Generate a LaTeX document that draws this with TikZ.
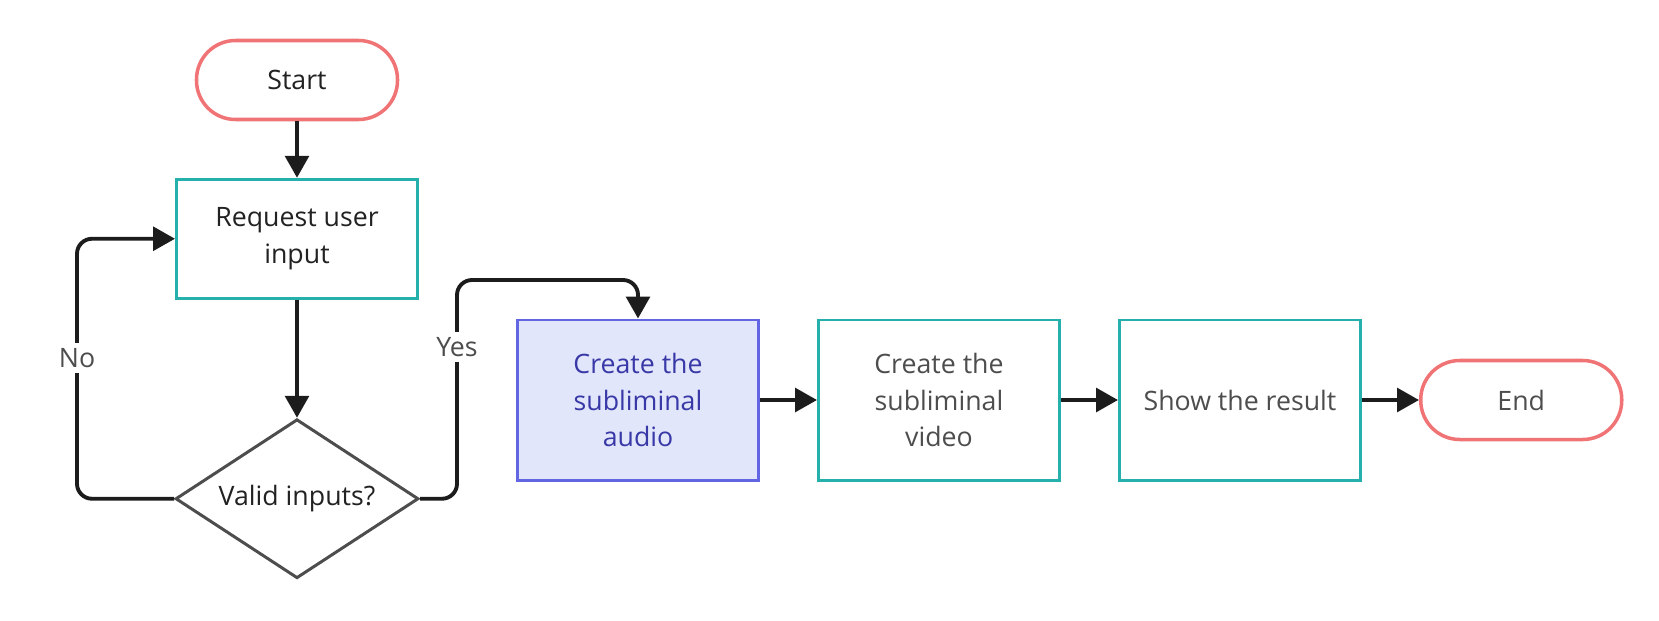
\documentclass[tikz,border=0pt]{standalone}
\usepackage{fontspec}
\setmainfont{Open Sans}
\usepackage{xcolor}
\usepackage{tikz}
\usetikzlibrary{shapes,arrows.meta,positioning,calc}

\definecolor{tealline}{HTML}{26B0AC}
\definecolor{coralline}{HTML}{F07476}
\definecolor{indigoline}{HTML}{6366E3}
\definecolor{indigofill}{HTML}{E1E6FB}
\definecolor{indigotext}{HTML}{3838A6}
\definecolor{darktext}{HTML}{222222}
\definecolor{graytext}{HTML}{4D4D4D}
\definecolor{arrowline}{HTML}{1C1C1C}

\begin{document}
\begin{tikzpicture}[
    node distance=1.14cm,
    font=\fontsize{15.2}{20.8}\selectfont,
    terminal/.style={rectangle, rounded corners=0.78cm, draw=coralline, line width=2pt, minimum width=4.02cm, minimum height=1.58cm, align=center},
    process/.style={rectangle, draw=tealline, line width=1.7pt, minimum width=4.82cm, minimum height=3.2cm, align=center, text=graytext},
    decision/.style={diamond, draw=graytext, line width=1.7pt, minimum width=4.86cm, minimum height=3.18cm, aspect=1.53, inner sep=0pt, align=center, text=darktext},
    arrow/.style={-{Triangle[length=12.5pt, width=13.5pt]}, draw=arrowline, line width=2.2pt},
    looplabel/.style={fill=white, text=graytext, inner sep=3pt},
]
\useasboundingbox (0,0) rectangle (33.18,12.4);

% Input part
\node[terminal, text=darktext] (start) at (5.94,10.8) {Start};
\node[process, text=darktext, minimum height=2.38cm, below=1.13cm of start] (request) {Request user\\input};
\node[decision, below=2.36cm of request] (valid) {Valid inputs?};

% Main flow
\node[process, draw=indigoline, fill=indigofill, text=indigotext] (audio) at (12.76,4.4) {Create the\\subliminal\\audio};
\node[process, right=of audio] (video) {Create the\\subliminal\\video};
\node[process, right=of video] (result) {Show the result};
\node[terminal, text=graytext, right=of result] (end) {End};

% Turning points of the loops
\coordinate (noturn) at (1.54,0);
\coordinate (yesturn) at (9.14,6.8);

% Arrows
\draw[arrow] (start) -- (request);
\draw[arrow] (request) -- (valid);
\draw[arrow, rounded corners=0.3cm] (valid.west) -| (noturn |- request.west) -- (request.west);
\draw[arrow, rounded corners=0.3cm] (valid.east) -| (yesturn) -| (audio.north);
\draw[arrow] (audio) -- (video);
\draw[arrow] (video) -- (result);
\draw[arrow] (result) -- (end);

% Labels on the loops
\node[looplabel] (no) at (1.54,5.24) {No};
\node[looplabel] (yes) at (9.14,5.46) {Yes};

\end{tikzpicture}
\end{document}
